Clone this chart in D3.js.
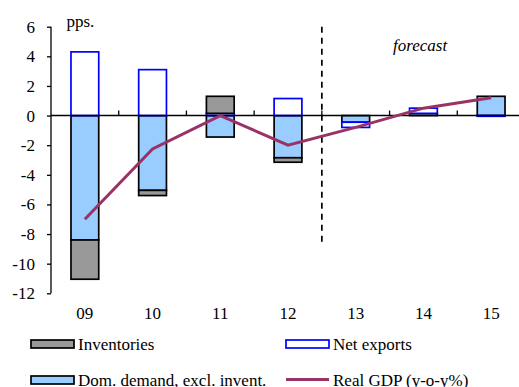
<!DOCTYPE html>
<html>
<head>
<meta charset="utf-8">
<title>Contributions to growth</title>
<script src="https://d3js.org/d3.v7.min.js"></script>
<style>
  body { margin: 0; background: #fff; }
  text { font-family: "Liberation Serif", "Times New Roman", serif; fill: #000; }
</style>
</head>
<body>
<div id="chart"></div>
<script>
// data
var years = ["09", "10", "11", "12", "13", "14", "15"];
var domDemand = [-8.4, -5.05, -1.45, -2.85, -0.45, 0.15, 1.3];
var netExports = [4.3, 3.1, 0.15, 1.15, -0.35, 0.35, -0.05];
var inventories = [-2.65, -0.35, 1.15, -0.3, 0, 0, 0];
var realGDP = [-7.0, -2.25, 0.0, -2.0, -0.8, 0.5, 1.2];
var yTicks = [6, 4, 2, 0, -2, -4, -6, -8, -10, -12];

var W = 519, H = 387;
var margin = {top: 26.7, left: 51};
var plotW = 474, plotH = 266.6;

var svg = d3.select("#chart").append("svg")
    .attr("width", W).attr("height", H);
var g = svg.append("g")
    .attr("transform", "translate(" + margin.left + "," + margin.top + ")");

var x = d3.scaleBand().domain(years).range([0, plotW]).paddingInner(0.59).paddingOuter(0.295);
var xb = d3.scaleBand().domain(years).range([0, plotW]);
var y = d3.scaleLinear().domain([-12, 6]).range([plotH, 0]);

var rows = years.map(function(d, i) {
  return {year: d, dom: domDemand[i], net: netExports[i], inv: inventories[i]};
});
var series = d3.stack().keys(["dom", "net", "inv"])
    .offset(d3.stackOffsetDiverging)(rows);

var fills = {dom: "#99ccff", net: "#ffffff", inv: "#999999"};
var strokes = {dom: "#000000", net: "#0000ff", inv: "#000000"};

// y axis
var yAxis = g.append("g")
  .call(d3.axisLeft(y).tickValues(yTicks).tickSize(4).tickFormat(d3.format("d")));
yAxis.select(".domain").attr("stroke-width", 1.3).attr("d", "M0,0V" + plotH);
yAxis.selectAll(".tick line").attr("stroke-width", 1.3);
yAxis.selectAll(".tick text").attr("x", -16).attr("font-size", 17)
  .attr("font-family", "Liberation Serif").text(function(d) { return d; });

// bars
series.forEach(function(s) {
  g.append("g").selectAll("rect")
    .data(s.filter(function(d) { return d[1] - d[0] !== 0; }))
    .join("rect")
      .attr("x", function(d) { return x(d.data.year); })
      .attr("width", x.bandwidth())
      .attr("y", function(d) { return y(d[1]); })
      .attr("height", function(d) { return y(d[0]) - y(d[1]); })
      .attr("fill", fills[s.key])
      .attr("stroke", strokes[s.key])
      .attr("stroke-width", 1.7);
});

// zero line with category ticks
g.append("line")
  .attr("x1", 0).attr("x2", plotW)
  .attr("y1", y(0)).attr("y2", y(0))
  .attr("stroke", "#000").attr("stroke-width", 1.6);
g.append("g").selectAll("line")
  .data(years.slice(1))
  .join("line")
    .attr("x1", function(d) { return xb(d); })
    .attr("x2", function(d) { return xb(d); })
    .attr("y1", y(0)).attr("y2", y(0) - 5)
    .attr("stroke", "#000").attr("stroke-width", 1.3);

// x labels
g.append("g").selectAll("text")
  .data(years)
  .join("text")
    .attr("x", function(d) { return xb(d) + xb.bandwidth() / 2; })
    .attr("y", 292.5)
    .attr("text-anchor", "middle")
    .attr("font-size", 17)
    .text(function(d) { return d; });

// forecast divider
g.append("line")
  .attr("x1", xb("13")).attr("x2", xb("13"))
  .attr("y1", 0).attr("y2", y(-8.8))
  .attr("stroke", "#000").attr("stroke-width", 1.7)
  .attr("stroke-dasharray", "6,5");

// real GDP line
g.append("path")
  .datum(realGDP)
  .attr("fill", "none")
  .attr("stroke", "#993366")
  .attr("stroke-width", 3)
  .attr("d", d3.line()
    .x(function(d, i) { return xb(years[i]) + xb.bandwidth() / 2; })
    .y(function(d) { return y(d); }));

// annotations
svg.append("text").attr("x", 66.5).attr("y", 27).attr("font-size", 17).text("pps.");
svg.append("text").attr("x", 393).attr("y", 51).attr("font-size", 17)
  .attr("font-style", "italic").text("forecast");

// legend
var legend = [
  {name: "Inventories", type: "rect", fill: fills.inv, stroke: strokes.inv, x: 31, y: 344},
  {name: "Net exports", type: "rect", fill: fills.net, stroke: strokes.net, x: 286, y: 344},
  {name: "Dom. demand, excl. invent.", type: "rect", fill: fills.dom, stroke: strokes.dom, x: 31, y: 380},
  {name: "Real GDP (y-o-y%)", type: "line", stroke: "#993366", x: 286, y: 379.5}
];
var lg = svg.append("g").selectAll("g").data(legend).join("g")
  .attr("transform", function(d) { return "translate(" + d.x + "," + d.y + ")"; });
lg.filter(function(d) { return d.type === "rect"; }).append("rect")
  .attr("x", 0).attr("y", -4).attr("width", 43).attr("height", 8)
  .attr("fill", function(d) { return d.fill; })
  .attr("stroke", function(d) { return d.stroke; })
  .attr("stroke-width", 1.7);
lg.filter(function(d) { return d.type === "line"; }).append("line")
  .attr("x1", 0).attr("x2", 43).attr("y1", 0).attr("y2", 0)
  .attr("stroke", function(d) { return d.stroke; })
  .attr("stroke-width", 3);
lg.append("text")
  .attr("x", 47).attr("y", 6)
  .attr("font-size", 17)
  .text(function(d) { return d.name; });
</script>
</body>
</html>
